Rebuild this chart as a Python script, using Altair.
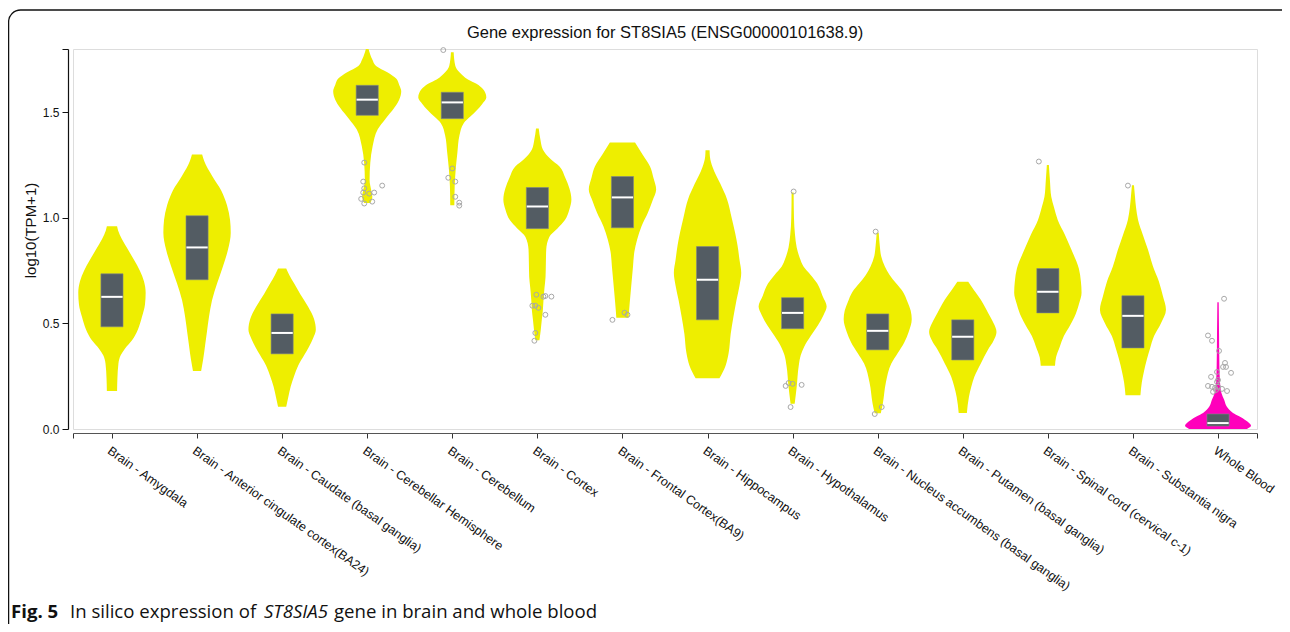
import altair as alt
import pandas as pd

# ---------------- data ----------------
tissues = [
    "Brain - Amygdala",
    "Brain - Anterior cingulate cortex(BA24)",
    "Brain - Caudate (basal ganglia)",
    "Brain - Cerebellar Hemisphere",
    "Brain - Cerebellum",
    "Brain - Cortex",
    "Brain - Frontal Cortex(BA9)",
    "Brain - Hippocampus",
    "Brain - Hypothalamus",
    "Brain - Nucleus accumbens (basal ganglia)",
    "Brain - Putamen (basal ganglia)",
    "Brain - Spinal cord (cervical c-1)",
    "Brain - Substantia nigra",
    "Whole Blood",
]

# violin outlines: log10(TPM+1) levels and relative density (1 = widest)
amygdala_v = [0.18, 0.24, 0.31, 0.35, 0.38, 0.42, 0.47, 0.53, 0.59, 0.645, 0.70, 0.75, 0.80, 0.85, 0.90, 0.94, 0.96]
amygdala_w = [0.15, 0.16, 0.19, 0.26, 0.38, 0.59, 0.76, 0.88, 0.97, 0.99, 0.94, 0.82, 0.65, 0.47, 0.29, 0.18, 0.15]
anterior_v = [0.275, 0.33, 0.40, 0.46, 0.53, 0.61, 0.69, 0.77, 0.85, 0.93, 0.99, 1.06, 1.13, 1.20, 1.27, 1.30]
anterior_w = [0.12, 0.18, 0.24, 0.29, 0.35, 0.44, 0.59, 0.76, 0.91, 0.99, 0.97, 0.88, 0.71, 0.44, 0.21, 0.15]
caudate_v = [0.105, 0.15, 0.20, 0.25, 0.30, 0.35, 0.39, 0.43, 0.47, 0.52, 0.58, 0.64, 0.69, 0.73, 0.76]
caudate_w = [0.12, 0.18, 0.25, 0.35, 0.47, 0.65, 0.79, 0.91, 0.99, 0.94, 0.76, 0.53, 0.35, 0.21, 0.12]
cerebhemi_v = [1.07, 1.10, 1.13, 1.18, 1.26, 1.34, 1.42, 1.47, 1.52, 1.56, 1.60, 1.63, 1.66, 1.69, 1.72, 1.75, 1.80]
cerebhemi_w = [0.09, 0.15, 0.12, 0.07, 0.09, 0.16, 0.31, 0.54, 0.79, 0.94, 1.00, 0.94, 0.85, 0.59, 0.26, 0.15, 0.04]
cerebellum_v = [1.06, 1.15, 1.23, 1.31, 1.39, 1.45, 1.48, 1.51, 1.54, 1.57, 1.61, 1.635, 1.656, 1.69, 1.72, 1.785]
cerebellum_w = [0.06, 0.07, 0.10, 0.15, 0.21, 0.34, 0.53, 0.72, 0.88, 1.00, 0.90, 0.71, 0.46, 0.21, 0.09, 0.04]
cortex_v = [0.42, 0.47, 0.517, 0.56, 0.612, 0.67, 0.72, 0.79, 0.85, 0.91, 0.95, 0.99, 1.04, 1.087, 1.14, 1.19, 1.243, 1.28, 1.324, 1.37, 1.424]
cortex_w = [0.06, 0.10, 0.13, 0.16, 0.18, 0.21, 0.24, 0.25, 0.26, 0.35, 0.59, 0.81, 0.94, 1.00, 0.94, 0.82, 0.65, 0.38, 0.16, 0.09, 0.04]
frontal_v = [0.527, 0.55, 0.645, 0.77, 0.84, 0.897, 0.96, 1.025, 1.08, 1.134, 1.19, 1.243, 1.30, 1.357]
frontal_w = [0.18, 0.19, 0.24, 0.31, 0.35, 0.43, 0.56, 0.75, 0.88, 0.99, 0.91, 0.81, 0.59, 0.37]
hippo_v = [0.24, 0.30, 0.36, 0.45, 0.53, 0.61, 0.68, 0.74, 0.80, 0.87, 0.93, 1.00, 1.09, 1.16, 1.24, 1.29, 1.32]
hippo_w = [0.35, 0.53, 0.62, 0.68, 0.76, 0.85, 0.94, 0.99, 0.94, 0.88, 0.81, 0.71, 0.57, 0.38, 0.15, 0.07, 0.06]
hypoth_v = [0.12, 0.20, 0.30, 0.35, 0.39, 0.44, 0.49, 0.54, 0.58, 0.63, 0.69, 0.73, 0.77, 0.81, 0.86, 0.92, 1.00, 1.12]
hypoth_w = [0.06, 0.12, 0.18, 0.24, 0.34, 0.53, 0.74, 0.91, 1.00, 0.88, 0.72, 0.53, 0.32, 0.21, 0.12, 0.07, 0.04, 0.03]
nacc_v = [0.075, 0.12, 0.22, 0.31, 0.36, 0.41, 0.46, 0.52, 0.56, 0.60, 0.65, 0.69, 0.73, 0.77, 0.82, 0.87, 0.93]
nacc_w = [0.09, 0.15, 0.24, 0.40, 0.59, 0.78, 0.91, 1.00, 0.97, 0.88, 0.74, 0.54, 0.35, 0.21, 0.10, 0.06, 0.03]
putamen_v = [0.076, 0.152, 0.20, 0.247, 0.31, 0.375, 0.42, 0.46, 0.50, 0.53, 0.57, 0.612, 0.66, 0.698]
putamen_w = [0.12, 0.18, 0.25, 0.34, 0.53, 0.74, 0.91, 0.99, 0.91, 0.81, 0.68, 0.53, 0.32, 0.16]
spinal_v = [0.30, 0.34, 0.39, 0.44, 0.49, 0.53, 0.59, 0.645, 0.70, 0.76, 0.85, 0.92, 0.99, 1.05, 1.10, 1.18, 1.25]
spinal_w = [0.21, 0.24, 0.35, 0.47, 0.65, 0.78, 0.91, 0.99, 0.97, 0.91, 0.69, 0.50, 0.29, 0.18, 0.10, 0.06, 0.03]
nigra_v = [0.16, 0.22, 0.27, 0.33, 0.38, 0.44, 0.50, 0.565, 0.63, 0.70, 0.77, 0.85, 0.92, 0.99, 1.05, 1.10, 1.155]
nigra_w = [0.22, 0.26, 0.32, 0.41, 0.50, 0.62, 0.82, 0.97, 0.88, 0.76, 0.59, 0.44, 0.29, 0.15, 0.09, 0.06, 0.03]
blood_v = [0.0, 0.015, 0.04, 0.06, 0.076, 0.105, 0.138, 0.17, 0.218, 0.30, 0.45, 0.60]
blood_w = [0.85, 0.97, 0.82, 0.62, 0.44, 0.26, 0.18, 0.10, 0.06, 0.04, 0.03, 0.02]

# box statistics
q1 = [0.484, 0.707, 0.356, 1.486, 1.47, 0.949, 0.953, 0.517, 0.475, 0.375, 0.327, 0.55, 0.384, 0.014]
median = [0.626, 0.86, 0.455, 1.56, 1.547, 1.054, 1.097, 0.707, 0.55, 0.465, 0.437, 0.65, 0.536, 0.028]
q3 = [0.735, 1.01, 0.545, 1.628, 1.595, 1.144, 1.196, 0.864, 0.622, 0.545, 0.517, 0.76, 0.631, 0.071]

# outliers: tissue index, value, horizontal jitter (fraction of a category step)
out_idx = [3] * 10 + [4] * 7 + [5] * 10 + [6] * 3 + [8] * 6 + [9] * 3 + [11] + [12] + [13] * 20
out_val = [1.262, 1.172, 1.14, 1.12, 1.115, 1.12, 1.153, 1.09, 1.068, 1.077,
           1.795, 1.234, 1.19, 1.172, 1.10, 1.072, 1.058,
           0.636, 0.627, 0.63, 0.627, 0.584, 0.584, 0.574, 0.541, 0.455, 0.418,
           0.517, 0.551, 0.541,
           1.125, 0.204, 0.218, 0.214, 0.209, 0.104,
           0.935, 0.071, 0.104,
           1.267,
           1.153,
           0.617, 0.443, 0.418, 0.37, 0.313, 0.294, 0.294, 0.27, 0.266, 0.247,
           0.232, 0.223, 0.204, 0.2, 0.195, 0.2, 0.19, 0.18, 0.176, 0.185]
out_jit = [-0.035, -0.047, -0.035, -0.047, 0.024, 0.082, 0.176, -0.071, -0.035, 0.059,
           -0.106, 0.0, -0.047, 0.035, 0.035, 0.082, 0.082,
           -0.012, 0.071, 0.094, 0.165, -0.059, -0.024, 0.012, 0.094, -0.024, -0.035,
           -0.118, 0.024, 0.059,
           0.012, -0.082, -0.047, 0.0, 0.106, -0.024,
           -0.024, -0.035, 0.047,
           -0.106,
           -0.059,
           0.071, -0.118, -0.071, 0.012, 0.082, 0.059, 0.094, -0.012, 0.153, -0.082,
           0.0, -0.012, -0.118, -0.071, -0.035, 0.0, 0.047, 0.106, -0.059, -0.024]

violin_values = [amygdala_v, anterior_v, caudate_v, cerebhemi_v, cerebellum_v, cortex_v, frontal_v,
                 hippo_v, hypoth_v, nacc_v, putamen_v, spinal_v, nigra_v, blood_v]
violin_widths = [amygdala_w, anterior_w, caudate_w, cerebhemi_w, cerebellum_w, cortex_w, frontal_w,
                 hippo_w, hypoth_w, nacc_w, putamen_w, spinal_w, nigra_w, blood_w]

# ---------------- tables ----------------
rows = []
for i, (vs, ws) in enumerate(zip(violin_values, violin_widths)):
    for k, (v, w) in enumerate(zip(vs, ws)):
        rows.append({"idx": i, "tissue": tissues[i], "value": v, "dens": w, "k": k})
violin_df = pd.DataFrame(rows)
brain_df = violin_df[violin_df["tissue"] != "Whole Blood"]
blood_df = violin_df[violin_df["tissue"] == "Whole Blood"]
box_df = pd.DataFrame({"idx": list(range(len(tissues))), "tissue": tissues,
                       "q1": q1, "med": median, "q3": q3})
out_df = pd.DataFrame({"idx": out_idx, "value": out_val, "jit": out_jit})
one = pd.DataFrame({"a": [0]})

# ---------------- scales / axes ----------------
PAD = 0.458
NMAX = len(tissues) - 1
x_scale = alt.Scale(domain=[-PAD, NMAX + PAD], nice=False, zero=False)
y_scale = alt.Scale(domain=[0, 1.8], nice=False, zero=False)

names_expr = "[" + ",".join("'" + t + "'" for t in tissues) + "]"
x_axis = alt.Axis(
    values=[-PAD] + list(range(len(tissues))) + [NMAX + PAD],
    labelExpr=f"(datum.value < -0.2 || datum.value > {NMAX + 0.2}) ? '' : {names_expr}[round(datum.value)]",
    labelAngle=35.5, labelAlign="left", labelBaseline="top",
    labelFont="Liberation Sans", labelFontSize=12.5, labelColor="#111", labelLimit=500,
    labelPadding=6, labelOverlap=False, labelFlush=False, labelBound=False,
    tickSize=5, tickColor="#333", domainColor="#555", domainWidth=1.2,
    offset=4, grid=False, title=None,
)
y_axis = alt.Axis(
    values=[0, 0.5, 1.0, 1.5, 1.8],
    labelExpr="datum.value > 1.7 ? '' : format(datum.value, '.1f')",
    labelFont="Liberation Sans", labelFontSize=12, labelColor="#111", labelPadding=3,
    labelFlush=False,
    tickSize=6, tickColor="#111", domainColor="#111", domainWidth=1.2,
    offset=5, grid=False,
    title="log10(TPM+1)", titleFont="Liberation Sans", titleFontSize=15,
    titleFontWeight="normal", titleColor="#111",
    titleX=-38, titleY=181, titleAngle=-90, titleAlign="center", titleBaseline="middle",
)

def X(field, **kw):
    return alt.X(field, type="quantitative", scale=x_scale, axis=x_axis, **kw)

def Y(field, **kw):
    return alt.Y(field, type="quantitative", scale=y_scale, axis=y_axis, **kw)

HALF = 0.40   # half width of widest violin, in category steps
BOXH = 0.13   # half width of box

def violin_layer(df, colour):
    return alt.Chart(df).transform_calculate(
        x_lo=f"datum.idx - datum.dens * {HALF}",
        x_hi=f"datum.idx + datum.dens * {HALF}",
    ).mark_area(orient="horizontal", color=colour, interpolate="monotone").encode(
        y=Y("value", stack=None),
        x=X("x_lo", stack=None),
        x2="x_hi:Q",
        detail="tissue:N",
    )

brain_violins = violin_layer(brain_df, "#EEEE00")
blood_violin = violin_layer(blood_df, "#FF00BB")

boxes = alt.Chart(box_df).transform_calculate(
    b0=f"datum.idx - {BOXH}", b1=f"datum.idx + {BOXH}",
).mark_rect(color="#535c63", stroke="#80878c", strokeWidth=0.6).encode(
    x=X("b0"), x2="b1:Q", y=Y("q1"), y2="q3:Q",
)

medians = alt.Chart(box_df).transform_calculate(
    m0=f"datum.idx - {BOXH - 0.005}", m1=f"datum.idx + {BOXH - 0.005}",
).mark_rule(color="white", strokeWidth=2).encode(
    x=X("m0"), x2="m1:Q", y=Y("med"),
)

outliers = alt.Chart(out_df).transform_calculate(
    ox="datum.idx + datum.jit",
).mark_point(shape="circle", filled=False, color="#a8a8a8", size=24, strokeWidth=1, opacity=1).encode(
    x=X("ox"), y=Y("value"),
)

frame = alt.Chart(one).mark_rect(
    fillOpacity=0, stroke="#111", strokeWidth=1.3, cornerRadius=12
).encode(x=alt.value(-64.4), x2=alt.value(1300), y=alt.value(-39), y2=alt.value(700))

title = alt.Chart(one).mark_text(
    text="Gene expression for ST8SIA5 (ENSG00000101638.9)", font="Liberation Sans", fontSize=16.5,
    align="center", baseline="alphabetic", color="#111",
).encode(x=alt.value(592), y=alt.value(-11))

cap_font = "Open Sans"
CAP = 18.6
cap1 = alt.Chart(one).mark_text(text="Fig. 5", font=cap_font, fontSize=CAP, fontWeight="bold",
                                align="left", baseline="alphabetic", color="#111").encode(
    x=alt.value(-62), y=alt.value(569))
cap2 = alt.Chart(one).mark_text(text="In silico expression of", font=cap_font, fontSize=CAP,
                                align="left", baseline="alphabetic", color="#111").encode(
    x=alt.value(-3), y=alt.value(569))
cap3 = alt.Chart(one).mark_text(text="ST8SIA5", font=cap_font, fontSize=CAP, fontStyle="italic",
                                align="left", baseline="alphabetic", color="#111").encode(
    x=alt.value(191), y=alt.value(569))
cap4 = alt.Chart(one).mark_text(text="gene in brain and whole blood", font=cap_font, fontSize=CAP,
                                align="left", baseline="alphabetic", color="#111").encode(
    x=alt.value(261), y=alt.value(569))

chart = alt.layer(
    frame, brain_violins, blood_violin, boxes, medians, outliers, title, cap1, cap2, cap3, cap4
).properties(
    width=1184,
    height=380,
    padding={"left": 65, "top": 41, "right": 25, "bottom": 195},
    autosize=alt.AutoSizeParams(type="none"),
).configure_view(stroke=None).configure(background="white")

chart.save("out.html", embed_options={"renderer": "svg", "actions": False})
